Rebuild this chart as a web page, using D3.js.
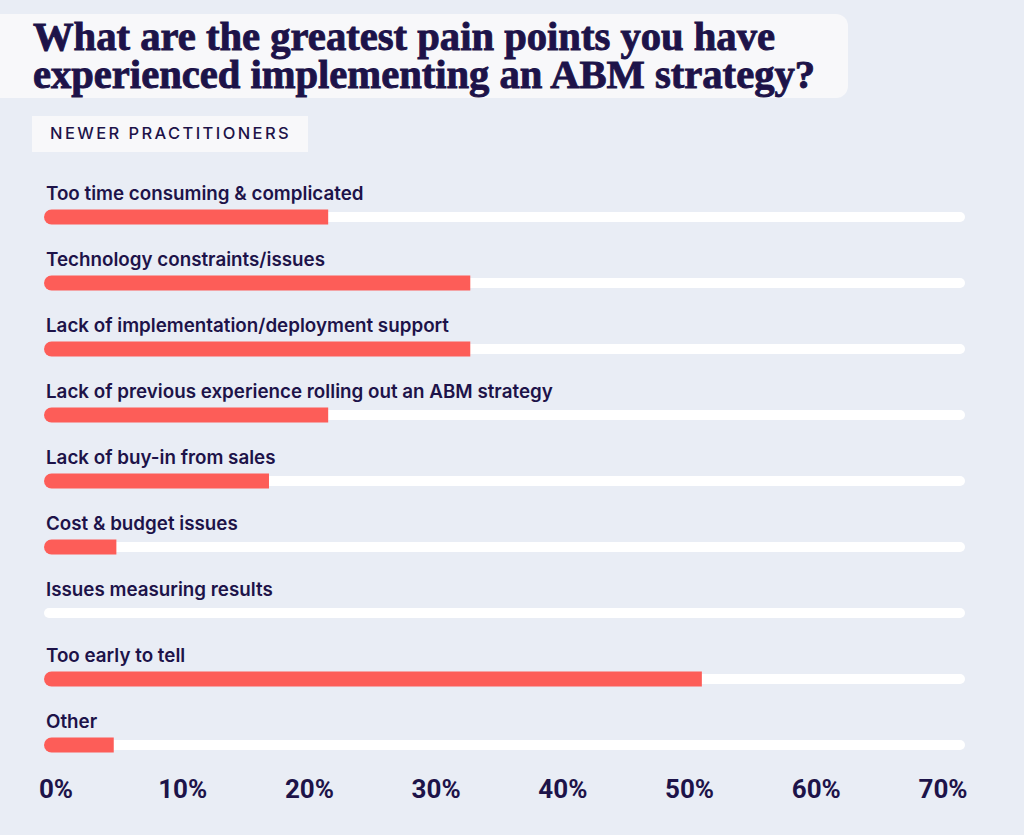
<!DOCTYPE html>
<html>
<head>
<meta charset="utf-8">
<script src="https://cdn.jsdelivr.net/npm/d3@7"></script>
<style>
  html, body { margin: 0; padding: 0; background: #e9edf5; }
  svg { display: block; }
</style>
</head>
<body>
<svg id="chart" width="1024" height="835"></svg>
<script>
const titleLines = [
  "What are the greatest pain points you have",
  "experienced implementing an ABM strategy?"
];
const segmentLabel = "NEWER PRACTITIONERS";

const categories = [
  "Too time consuming & complicated",
  "Technology constraints/issues",
  "Lack of implementation/deployment support",
  "Lack of previous experience rolling out an ABM strategy",
  "Lack of buy-in from sales",
  "Cost & budget issues",
  "Issues measuring results",
  "Too early to tell",
  "Other"
];
const values = [21.6, 32.4, 32.4, 21.6, 17.1, 5.5, 0, 50, 5.3];
const tickLabels = ["0%", "10%", "20%", "30%", "40%", "50%", "60%", "70%"];

const ink = "#1d1349";
const red = "#fd5d58";

const svg = d3.select("#chart");

// title panel
svg.append("rect")
  .attr("x", -20).attr("y", 14)
  .attr("width", 868).attr("height", 84)
  .attr("rx", 12)
  .attr("fill", "#f8f8fa");

// title: one text, one tspan per line
const titleWidths = [742, 782];
svg.append("text")
  .attr("class", "title")
  .style("font-family", "'Liberation Serif', 'DejaVu Serif', serif")
  .style("font-weight", 700)
  .style("font-size", "40px")
  .attr("fill", ink)
  .attr("stroke", ink)
  .attr("stroke-width", 0.9)
  .selectAll("tspan")
  .data(titleLines)
  .enter()
  .append("tspan")
  .attr("x", 33)
  .attr("y", (d, i) => 50 + i * 38)
  .attr("textLength", (d, i) => titleWidths[i])
  .attr("lengthAdjust", "spacingAndGlyphs")
  .text((d) => d);

// segment tag
svg.append("rect")
  .attr("x", 32).attr("y", 116)
  .attr("width", 276).attr("height", 36)
  .attr("fill", "#f8f8fa");

svg.append("text")
  .attr("x", 50).attr("y", 139)
  .style("font-family", "Inter, 'Noto Sans', sans-serif")
  .style("font-weight", 500)
  .style("font-size", "16.5px")
  .style("letter-spacing", "2.4px")
  .attr("fill", ink)
  .text(segmentLabel);

// scales
const x = d3.scaleLinear().domain([0, 70]).range([44, 965]);
const y = d3.scalePoint().domain(categories).range([217, 745]);

const rows = svg.selectAll(".row")
  .data(categories.map((c, i) => ({ name: c, value: values[i] })))
  .enter()
  .append("g")
  .attr("class", "row")
  .attr("transform", (d) => `translate(0,${y(d.name)})`);

rows.append("text")
  .attr("x", 46)
  .attr("y", -24)
  .attr("dy", "0.35em")
  .style("font-family", "Inter, 'Noto Sans', sans-serif")
  .style("font-weight", 600)
  .style("font-size", "18.8px")
  .attr("fill", ink)
  .text((d) => d.name);

// white track
rows.append("rect")
  .attr("x", x(0))
  .attr("y", -5)
  .attr("width", x(70) - x(0))
  .attr("height", 10)
  .attr("rx", 5)
  .attr("fill", "#ffffff");

// red bar, rounded on the left only
const r = 7.5;
rows.filter((d) => d.value > 0)
  .append("path")
  .attr("fill", red)
  .attr("d", (d) => {
    const x0 = x(0), x1 = x(d.value);
    return `M${x0 + r},${-r}L${x1},${-r}L${x1},${r}L${x0 + r},${r}` +
      `A${r},${r} 0 0 1 ${x0 + r},${-r}Z`;
  });

// percentage labels along the bottom
const tx = d3.scalePoint().domain(tickLabels).range([56, 943]);
svg.selectAll(".tick-label")
  .data(tickLabels)
  .enter()
  .append("text")
  .attr("class", "tick-label")
  .attr("x", (d) => tx(d))
  .attr("y", 798)
  .attr("text-anchor", "middle")
  .style("font-family", "Roboto, 'Noto Sans', sans-serif")
  .style("font-weight", 700)
  .style("font-size", "26px")
  .attr("fill", ink)
  .text((d) => d);
</script>
</body>
</html>
